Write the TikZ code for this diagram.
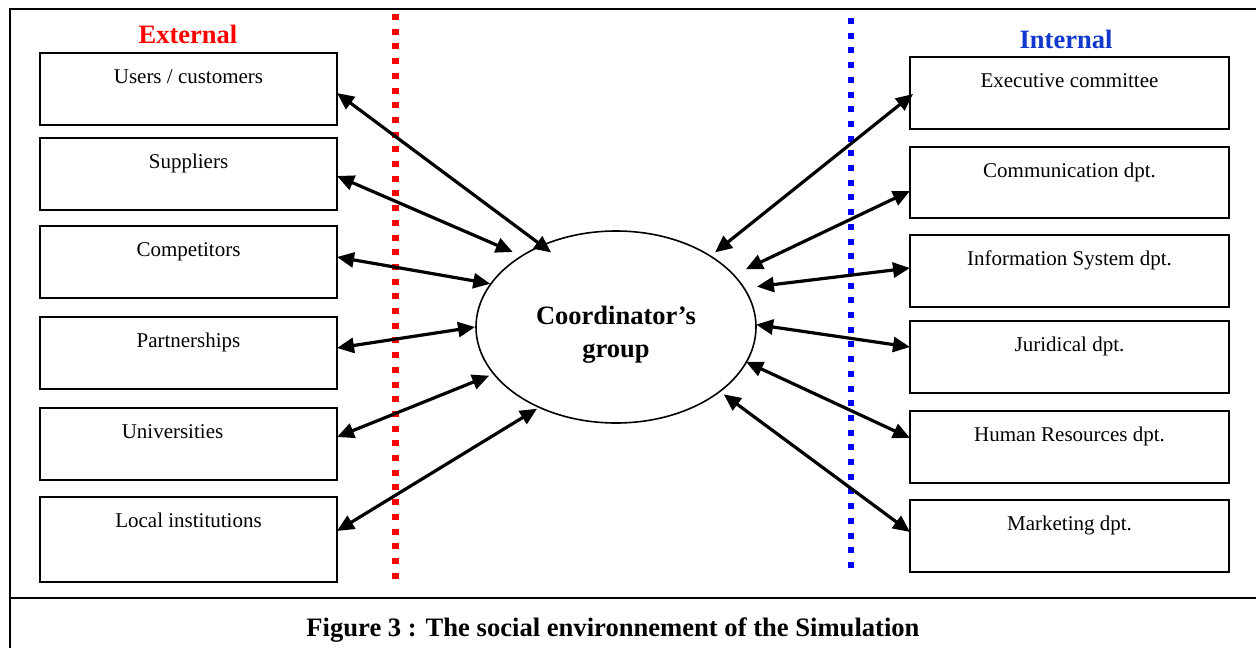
\documentclass[tikz,border=0pt]{standalone}
\usepackage{fontspec}
\setmainfont{Liberation Serif}
\usetikzlibrary{arrows.meta,shapes.geometric,calc}
\definecolor{extred}{RGB}{255,0,0}
\definecolor{intblue}{RGB}{0,0,255}
\definecolor{inttitle}{RGB}{17,56,204}

\begin{document}
\begin{tikzpicture}[x=1pt,y=-1pt,
  box/.style={draw, line width=2pt, rectangle, inner sep=0pt, outer sep=0pt},
  lbox/.style={box, minimum width=297pt},
  rbox/.style={box, minimum width=319pt},
  boxtext/.style={anchor=base, inner sep=0pt, font=\fontsize{21}{25}\selectfont},
  heading/.style={anchor=base, inner sep=0pt, font=\fontsize{26.5}{30}\selectfont\bfseries},
  conn/.style={line width=3.2pt, {Triangle[length=17pt,width=15pt]}-{Triangle[length=17pt,width=15pt]}},
  divider/.style={line width=6.5pt, dash pattern=on 6pt off 8.7pt},
]
\useasboundingbox (0,0) rectangle (1256,648);
\clip (0,0) rectangle (1256,648);
\fill[white] (0,0) rectangle (1256,648);

% outer frame and caption separator
\draw[line width=2.7pt] (10,9) rectangle (1270,660);
\draw[line width=2.7pt] (10,598) -- (1270,598);

% boundaries between the external and internal worlds
\draw[divider, extred] (395.5,14) -- (395.5,579);
\draw[divider, intblue] (851,18) -- (851,568);

% headings
\node[heading, text=extred] (hext) at (188,43) {External};
\node[heading, text=inttitle] (hint) at (1066,48) {Internal};

% external partners
\node[lbox, minimum height=72pt] (u1) at (188.5,89) {};
\node[lbox, minimum height=72pt] (u2) at (188.5,174) {};
\node[lbox, minimum height=72pt] (u3) at (188.5,262) {};
\node[lbox, minimum height=72pt] (u4) at (188.5,353) {};
\node[lbox, minimum height=72pt] (u5) at (188.5,444) {};
\node[lbox, minimum height=85pt] (u6) at (188.5,539.5) {};
\node[boxtext] (t1) at ([yshift=-30pt]u1.north) {Users / customers};
\node[boxtext] (t2) at ([yshift=-30pt]u2.north) {Suppliers};
\node[boxtext] (t3) at ([yshift=-30pt]u3.north) {Competitors};
\node[boxtext] (t4) at ([yshift=-30pt]u4.north) {Partnerships};
\node[boxtext] (t5) at ([yshift=-30pt,xshift=-16pt]u5.north) {Universities};
\node[boxtext] (t6) at ([yshift=-30pt]u6.north) {Local institutions};

% internal departments
\node[rbox, minimum height=72pt] (d1) at (1069.5,93) {};
\node[rbox, minimum height=71pt] (d2) at (1069.5,182.5) {};
\node[rbox, minimum height=72pt] (d3) at (1069.5,271) {};
\node[rbox, minimum height=72pt] (d4) at (1069.5,357) {};
\node[rbox, minimum height=72pt] (d5) at (1069.5,447) {};
\node[rbox, minimum height=72pt] (d6) at (1069.5,536) {};
\node[boxtext] (s1) at ([yshift=-30pt]d1.north) {Executive committee};
\node[boxtext] (s2) at ([yshift=-30pt]d2.north) {Communication dpt.};
\node[boxtext] (s3) at ([yshift=-30pt]d3.north) {Information System dpt.};
\node[boxtext] (s4) at ([yshift=-30pt]d4.north) {Juridical dpt.};
\node[boxtext] (s5) at ([yshift=-30pt]d5.north) {Human Resources dpt.};
\node[boxtext] (s6) at ([yshift=-30pt]d6.north) {Marketing dpt.};

% coordinator's group
\node[ellipse, draw, line width=1.6pt, minimum width=280pt, minimum height=192pt,
      inner sep=0pt, outer sep=0pt] (grp) at (616,327) {};
\node[heading] (g1) at (616,324) {Coordinator’s};
\node[heading] (g2) at (616,357) {group};

% links with the external partners
\draw[conn] ([yshift=-4pt]u1.east) -- ($(grp.center)!0.904!(grp.131.3)$);
\draw[conn] ([yshift=-2pt]u2.east) -- ($(grp.center)!1.074!(grp.144.5)$);
\draw[conn] ([yshift=5pt]u3.east) -- ($(grp.center)!1.005!(grp.161.7)$);
\draw[conn] ([yshift=5pt]u4.east) -- ($(grp.center)!1.007!(grp.180.9)$);
\draw[conn] ([yshift=7pt]u5.east) -- ($(grp.center)!1.038!(grp.201.5)$);
\draw[conn] ([yshift=8.5pt]u6.east) -- ($(grp.center)!1.021!(grp.226.6)$);

% links with the internal departments
\draw[conn] ($(grp.center)!1.051!(grp.37)$) -- ([yshift=-1pt,xshift=3pt]d1.west);
\draw[conn] ($(grp.center)!1.106!(grp.24.5)$) -- ([yshift=-8.5pt]d2.west);
\draw[conn] ($(grp.center)!1.091!(grp.16.7)$) -- ([yshift=3pt]d3.west);
\draw[conn] ($(grp.center)!1.001!(grp.1.5)$) -- ([yshift=10pt]d4.west);
\draw[conn] ($(grp.center)!0.997!(grp.345.1)$) -- ([yshift=9pt]d5.west);
\draw[conn] ($(grp.center)!1.041!(grp.328.7)$) -- ([yshift=4pt]d6.west);

% caption
\node[anchor=base, inner sep=0pt, font=\fontsize{26.6}{30}\selectfont\bfseries] (cap)
  at (613,636) {Figure 3 : The social environnement of the Simulation};
\end{tikzpicture}
\end{document}
